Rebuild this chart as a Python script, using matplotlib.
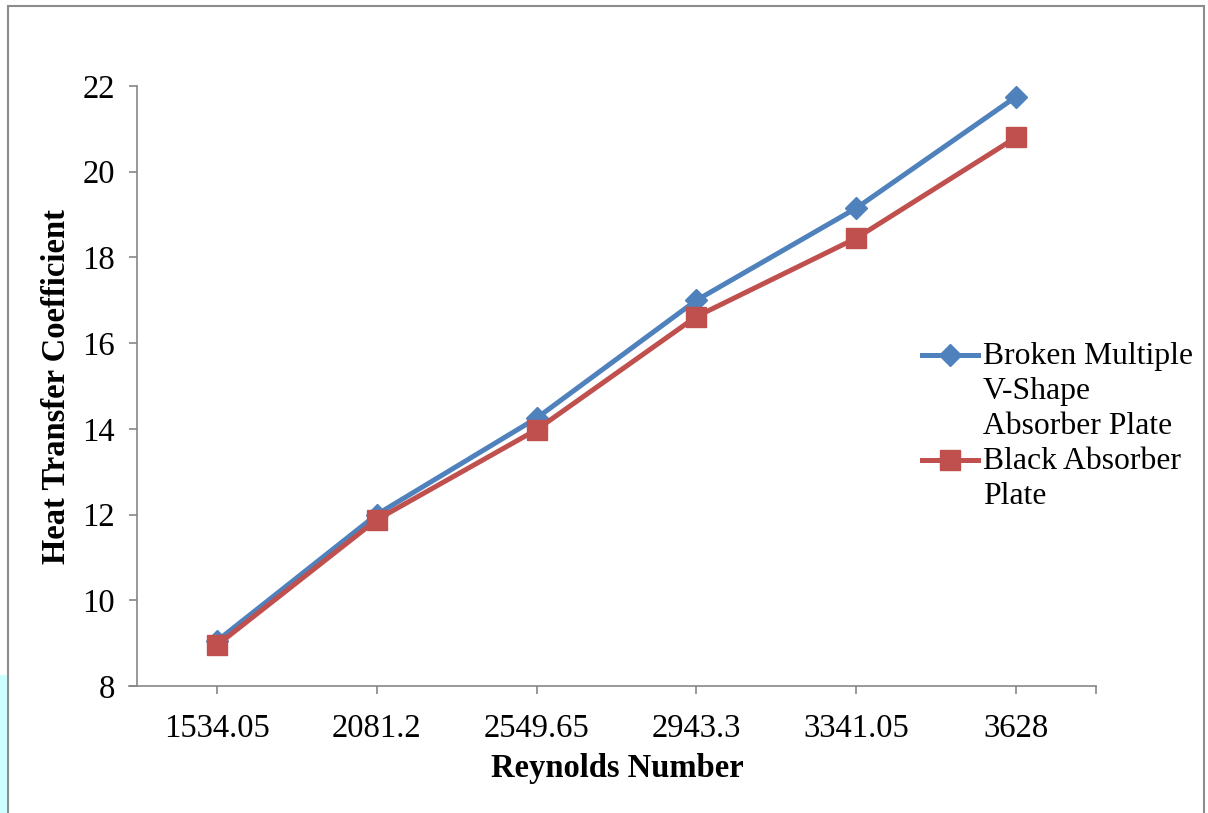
import numpy as np
import matplotlib.pyplot as plt
from matplotlib.lines import Line2D
from matplotlib.patches import Rectangle

plt.rcParams['font.family'] = ['Liberation Serif', 'DejaVu Serif']

reynolds = ['1534.05', '2081.2', '2549.65', '2943.3', '3341.05', '3628']
broken_v = [9.05, 12.0, 14.25, 17.0, 19.15, 21.75]
black_plate = [8.95, 11.88, 13.98, 16.62, 18.45, 20.8]

label_broken = 'Broken Multiple\nV-Shape\nAbsorber Plate'
label_black = 'Black Absorber\nPlate'

blue = '#4F81BD'
red = '#C0504D'
axis_grey = '#868686'
fs = 23.5

fig = plt.figure(figsize=(12.08, 8.13), dpi=100)
ax = fig.add_axes([137 / 1208, 1 - 686 / 813, (1096 - 137) / 1208, 600 / 813])

x = np.arange(len(reynolds))
ax.plot(x, broken_v, color=blue, lw=3.6, marker='D', ms=11, mfc=blue, mec=blue, zorder=3)
ax.plot(x, black_plate, color=red, lw=3.6, marker='s', ms=14, mfc=red, mec=red, zorder=4)

ax.set_xlim(-0.5, len(reynolds) - 0.5)
ax.set_ylim(8, 22)
ax.set_yticks(np.arange(8, 23, 2))
ax.set_xticks(list(x) + [len(reynolds) - 0.5])
ax.set_xticklabels(reynolds + [''])
ax.tick_params(axis='both', labelsize=fs, colors=axis_grey, length=6, width=1.2, labelcolor='black')
ax.tick_params(axis='x', pad=14)
ax.tick_params(axis='y', pad=10)
for side in ['top', 'right']:
    ax.spines[side].set_visible(False)
for side in ['left', 'bottom']:
    ax.spines[side].set_color(axis_grey)
    ax.spines[side].set_linewidth(1.2)
# x axis runs a little to the left of the y axis, Excel style
ax.spines['bottom'].set_bounds(-0.5 - 8 / 159.8, len(reynolds) - 0.5)

fig.text(617 / 1208, 1 - 768 / 813, 'Reynolds Number', fontsize=fs, fontweight='bold',
         ha='center', va='center')
fig.text(57 / 1208, 1 - 386 / 813, 'Heat Transfer Coefficient', fontsize=fs, fontweight='bold',
         ha='center', va='center', rotation=90)

# legend drawn by hand so the marker sits on the first text line
def legend_entry(y_px, color, marker, ms, text):
    yf = 1 - y_px / 813
    fig.add_artist(Line2D([922 / 1208, 978 / 1208], [yf, yf], color=color, lw=3.6,
                          transform=fig.transFigure))
    fig.add_artist(Line2D([950 / 1208], [yf], color=color, marker=marker, ms=ms,
                          mfc=color, mec=color, transform=fig.transFigure))
    fig.text(983 / 1208, yf + 13 / 813, text, fontsize=22.8, ha='left', va='top',
             linespacing=1.27, transform=fig.transFigure)

legend_entry(355, blue, 'D', 11, label_broken)
legend_entry(460, red, 's', 14, label_black)

# outer frame and the cyan strip at the lower left
fig.add_artist(Rectangle((8 / 1208, -0.05), (1204 - 8) / 1208, 1 - 6 / 813 + 0.05,
                         transform=fig.transFigure, fill=False, ec='#8c8c8c', lw=1.5))
fig.add_artist(Rectangle((0, 0), 7 / 1208, 1 - 675 / 813, transform=fig.transFigure,
                         fc='#ccffff', ec='none'))

fig.savefig('out.png', dpi=100)
